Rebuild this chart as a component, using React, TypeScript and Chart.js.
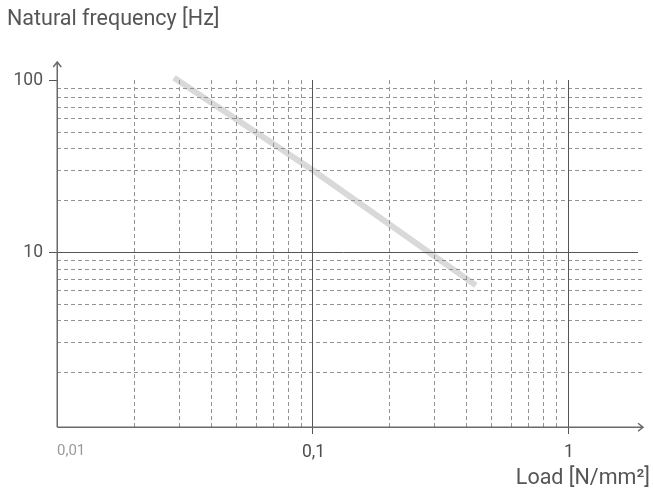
import React, { useEffect, useRef } from "react";
import { Chart, registerables } from "chart.js";

Chart.register(...registerables);

// Data
const loads = [0.0287, 0.1, 0.436];
const freqs = [103, 30, 6.4];

// Axis ticks / labels
const xMajorTicks = [0.01, 0.1, 1];
const xTickLabels = ["0,01", "0,1", "1"];
const yMajorTicks = [10, 100];
const yTickLabels = ["10", "100"];
const xMinorTicks = [0.02, 0.03, 0.04, 0.05, 0.06, 0.07, 0.08, 0.09, 0.2, 0.3, 0.4, 0.5, 0.6, 0.7, 0.8, 0.9];
const yMinorTicks = [2, 3, 4, 5, 6, 7, 8, 9, 20, 30, 40, 50, 60, 70, 80, 90];

const titleText = "Natural frequency [Hz]";
const xTitleText = "Load [N/mm²]";

const FONT = "Roboto, 'DejaVu Sans', sans-serif";

const gridPlugin = {
  id: "customGrid",
  afterDatasetsDraw(chart: any) {
    const { ctx, chartArea } = chart;
    const xs = chart.scales.x;
    const ys = chart.scales.y;
    const left = chartArea.left;
    const right = chartArea.right;
    const top = chartArea.top;
    const bottom = chartArea.bottom;
    ctx.save();

    // dashed minor grid
    ctx.strokeStyle = "#939393";
    ctx.lineWidth = 1;
    ctx.setLineDash([4, 3]);
    for (const v of xMinorTicks) {
      const px = Math.round(xs.getPixelForValue(v)) + 0.5;
      ctx.beginPath();
      ctx.moveTo(px, top);
      ctx.lineTo(px, bottom);
      ctx.stroke();
    }
    for (const v of yMinorTicks) {
      const py = Math.round(ys.getPixelForValue(v)) + 0.5;
      ctx.beginPath();
      ctx.moveTo(left, py);
      ctx.lineTo(right + 2, py);
      ctx.stroke();
    }
    ctx.setLineDash([]);

    // solid major lines
    ctx.strokeStyle = "#555";
    ctx.lineWidth = 1;
    for (const v of xMajorTicks) {
      if (v <= xs.min) continue;
      const px = Math.round(xs.getPixelForValue(v)) + 0.5;
      ctx.beginPath();
      ctx.moveTo(px, top);
      ctx.lineTo(px, bottom + 7);
      ctx.stroke();
    }
    for (const v of yMajorTicks) {
      const py = Math.round(ys.getPixelForValue(v)) + 0.5;
      ctx.beginPath();
      ctx.moveTo(left - 8, py);
      ctx.lineTo(v >= ys.max ? left : right - 5, py);
      ctx.stroke();
    }

    // axes with arrows
    ctx.strokeStyle = "#6a6a6a";
    ctx.lineWidth = 1.5;
    const ax = left + 0.25;
    const ay = bottom + 0.25;
    ctx.beginPath();
    ctx.moveTo(ax, ay);
    ctx.lineTo(ax, top - 18);
    ctx.moveTo(ax - 4, top - 13);
    ctx.lineTo(ax, top - 18);
    ctx.lineTo(ax + 4, top - 13);
    ctx.moveTo(ax, ay);
    ctx.lineTo(right, ay);
    ctx.moveTo(right - 5, ay - 4);
    ctx.lineTo(right, ay);
    ctx.lineTo(right - 5, ay + 4);
    ctx.stroke();

    // texts
    ctx.fillStyle = "#555";
    ctx.textBaseline = "alphabetic";
    ctx.textAlign = "left";
    ctx.font = `21.5px ${FONT}`;
    ctx.fillText(titleText, 7, 25);

    ctx.font = `17.5px ${FONT}`;
    ctx.textAlign = "right";
    ctx.textBaseline = "middle";
    yMajorTicks.forEach((v, i) => {
      const py = ys.getPixelForValue(v);
      ctx.fillText(yTickLabels[i], left - 14, py + 1);
    });

    ctx.textBaseline = "alphabetic";
    xMajorTicks.forEach((v, i) => {
      const px = xs.getPixelForValue(v);
      if (i === 0) {
        ctx.font = `15px ${FONT}`;
        ctx.fillStyle = "#9a9a9a";
        ctx.textAlign = "left";
        ctx.fillText(xTickLabels[i], px, bottom + 28);
      } else {
        ctx.font = `17.5px ${FONT}`;
        ctx.fillStyle = "#4d4d4d";
        ctx.textAlign = "center";
        ctx.fillText(xTickLabels[i], px + 1, bottom + 30);
      }
    });

    ctx.font = `21.5px ${FONT}`;
    ctx.fillStyle = "#555";
    ctx.textAlign = "right";
    ctx.fillText(xTitleText, 650, bottom + 57);

    ctx.restore();
  },
};

export default function App() {
  const canvasRef = useRef<HTMLCanvasElement | null>(null);

  useEffect(() => {
    if (!canvasRef.current) return;
    const chart = new Chart(canvasRef.current, {
      type: "line",
      data: {
        datasets: [
          {
            data: loads.map((l, i) => ({ x: l, y: freqs[i] })),
            borderColor: "#d9d9d9",
            borderWidth: 6,
            borderCapStyle: "butt",
            pointRadius: 0,
            tension: 0,
            clip: false as any,
          } as any,
        ],
      },
      options: {
        animation: false,
        responsive: true,
        maintainAspectRatio: false,
        layout: { padding: { left: 57, right: 11, top: 80, bottom: 67 } },
        plugins: {
          legend: { display: false },
          tooltip: { enabled: false },
        },
        scales: {
          x: { type: "logarithmic", min: 0.01, max: 1.967, display: false },
          y: { type: "logarithmic", min: 0.961, max: 100, display: false },
        },
      },
      plugins: [gridPlugin],
    });
    return () => chart.destroy();
  }, []);

  return (
    <div style={{ position: "absolute", left: 0, top: 0, width: 654, height: 494, background: "#fff" }}>
      <canvas ref={canvasRef} />
    </div>
  );
}
